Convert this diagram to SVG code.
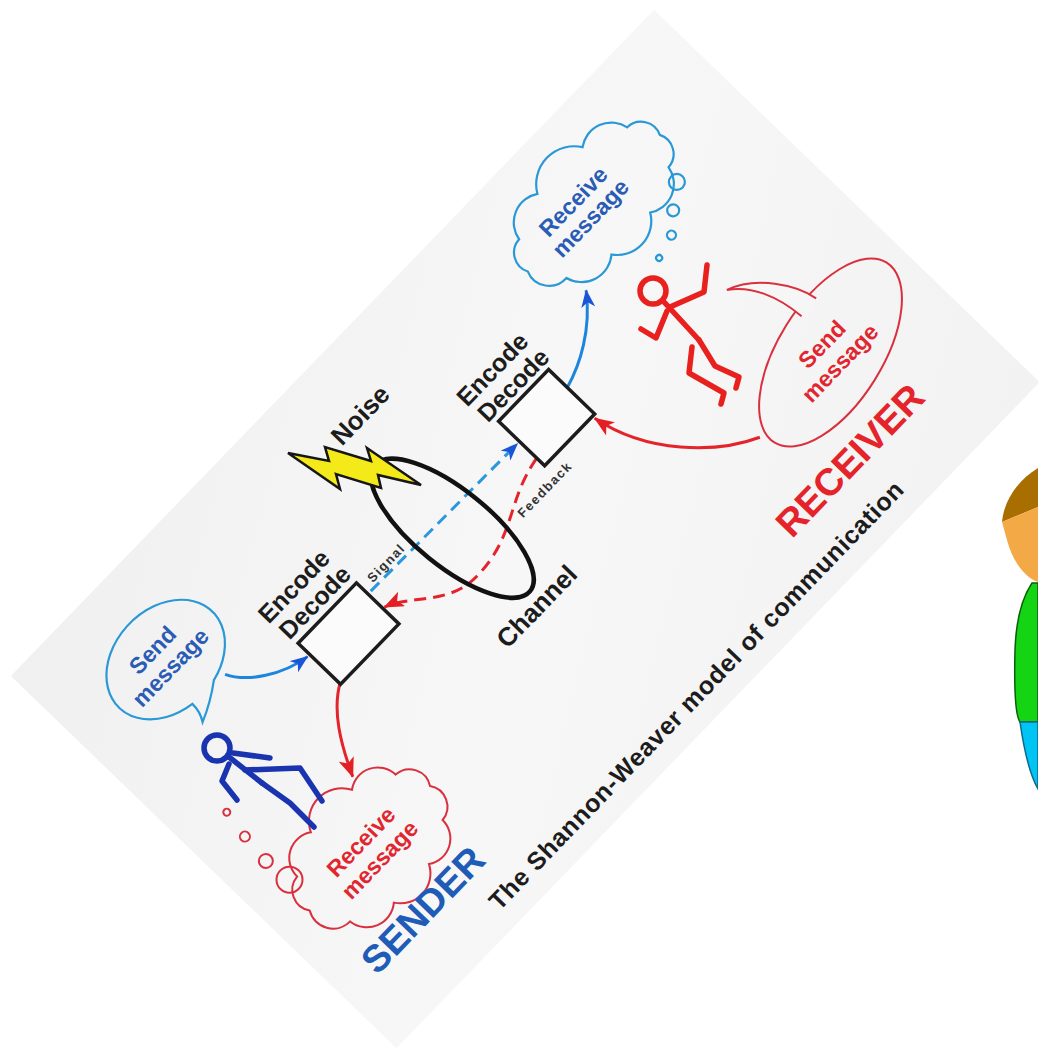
<svg xmlns="http://www.w3.org/2000/svg" width="1038" height="1048" viewBox="0 0 1038 1048">
  <defs>
    <style>
      .t{font-family:"Liberation Sans",Arial,sans-serif;font-weight:bold;}
      .ink{fill:#1c1c1c;}
      .small{fill:#333333;}
      .blueTxt{fill:#2a5cb6;}
      .redTxt{fill:#e1262f;}
      .box{fill:#fbfbfb;stroke:#1c1c1c;stroke-width:3.5;}
      .bubbleBlue{fill:none;stroke:#2a98d6;stroke-width:2.2;}
      .bubbleRed{fill:none;stroke:#d9303f;stroke-width:2;}
      .arrowBlue{fill:none;stroke:#1d86dc;stroke-width:3;}
      .arrowRed{fill:none;stroke:#e5232a;stroke-width:3;}
      .dashBlue{fill:none;stroke:#2a98dc;stroke-width:3;stroke-dasharray:12 7;}
      .dashRed{fill:none;stroke:#e5232a;stroke-width:3;stroke-dasharray:12 7;}
      .stickBlue{fill:none;stroke:#1a34b0;stroke-width:5.5;stroke-linecap:round;stroke-linejoin:round;}
      .stickRed{fill:none;stroke:#e8201e;stroke-width:5.5;stroke-linecap:round;stroke-linejoin:round;}
    </style>
    <linearGradient id="cardShade" x1="0" y1="0" x2="1" y2="1">
      <stop offset="0" stop-color="#f0f0f0"/>
      <stop offset="0.5" stop-color="#f7f7f7"/>
      <stop offset="1" stop-color="#f2f2f2"/>
    </linearGradient>
    <marker id="tipBlue" markerUnits="userSpaceOnUse" markerWidth="20" markerHeight="14" refX="17" refY="7" orient="auto">
      <path d="M0,0 L18,7 L0,14 L5,7 Z" fill="#1a55d8"/>
    </marker>
    <marker id="tipRed" markerUnits="userSpaceOnUse" markerWidth="22" markerHeight="16" refX="19" refY="8" orient="auto">
      <path d="M0,0 L20,8 L0,16 L5,8 Z" fill="#e41f24"/>
    </marker>
  </defs>

  <rect width="1038" height="1048" fill="#ffffff"/>

  <!-- the card, drawn in its own rotated frame -->
  <g transform="translate(13,678) rotate(-46)">
    <rect id="card" x="0" y="-3" width="926" height="536" fill="url(#cardShade)"/>

    <g id="connectors">
      <path class="dashBlue" d="M311,197 L519,200" marker-end="url(#tipBlue)"/>
      <path class="dashRed" d="M522,224 C470,232 452,263 395,263 C355,263 336,228 309,218" marker-end="url(#tipRed)"/>
      <path class="arrowBlue" d="M150,150 C160,172 190,192 220,197" marker-end="url(#tipBlue)"/>
      <path class="arrowRed" d="M225,238 C198,252 180,282 165,313" marker-end="url(#tipRed)"/>
      <path class="arrowBlue" d="M594,197 C620,190 652,174 677,143" marker-end="url(#tipBlue)"/>
      <path class="arrowRed" d="M692,370 C650,350 602,300 591,238" marker-end="url(#tipRed)"/>
    </g>

    <g id="sender-codec">
      <rect class="box" x="223" y="181" width="84" height="59"/>
      <text class="t ink" x="216" y="147" font-size="25">Encode</text>
      <text class="t ink" x="219" y="173" font-size="25">Decode</text>
    </g>

    <g id="receiver-codec">
      <rect class="box" x="522" y="171" width="72" height="64"/>
      <text class="t ink" x="510" y="139" font-size="25">Encode</text>
      <text class="t ink" x="513" y="165" font-size="25">Decode</text>
    </g>

    <g id="channel">
      <ellipse cx="413" cy="212" rx="38" ry="100" transform="rotate(-5 413 212)" fill="none" stroke="#111111" stroke-width="4.5"/>
      <text class="t ink" x="364" y="336" font-size="26">Channel</text>
    </g>

    <g id="signal-label">
      <text class="t small" x="318" y="193" font-size="13" letter-spacing="1.5">Signal</text>
    </g>
    <g id="feedback-label">
      <text class="t small" x="469" y="256" font-size="13" letter-spacing="1.5">Feedback</text>
    </g>

    <g id="noise-label">
      <text class="t ink" x="395" y="76" font-size="26">Noise</text>
    </g>

    <g id="sender-send">
      <path class="bubbleBlue" d="M138,146 A67,51 0 1 0 106,147 Q106,158 100,167 Q120,159 138,146 Z"/>
      <text class="t blueTxt" x="117" y="89" font-size="23" text-anchor="middle">Send</text>
      <text class="t blueTxt" x="117" y="114" font-size="23" text-anchor="middle">message</text>
    </g>

    <g id="sender-receive">
      <path class="bubbleRed" d="M212,375 A21,21 0 0 1 196.3,407.7 A26,26 0 0 1 155.1,428.5 A30,30 0 0 1 103,430 A27,27 0 0 1 59.1,411.6 A24,24 0 0 1 38.8,375 A21,21 0 0 1 54.5,342.3 A26,26 0 0 1 95.9,321.5 A33,33 0 0 1 155.1,321.5 A26,26 0 0 1 196.3,342.3 A21,21 0 0 1 212,375 Z"/>
      <circle class="bubbleRed" cx="52" cy="247" r="3.5"/>
      <circle class="bubbleRed" cx="47" cy="277" r="5"/>
      <circle class="bubbleRed" cx="44" cy="309" r="7"/>
      <circle class="bubbleRed" cx="47" cy="339" r="13"/>
      <text class="t redTxt" x="124" y="372" font-size="23" text-anchor="middle">Receive</text>
      <text class="t redTxt" x="124" y="398" font-size="23" text-anchor="middle">message</text>
    </g>

    <g id="receiver-receive">
      <path class="bubbleBlue" d="M840,88 A20,20 0 0 1 822.8,116.7 A29,29 0 0 1 777.5,135 A34,34 0 0 1 720.4,136.3 A30,30 0 0 1 672.2,120.2 A23,23 0 0 1 650,88 A20,20 0 0 1 667.2,59.3 A29,29 0 0 1 712.5,41 A38,38 0 0 1 777.5,41 A29,29 0 0 1 822.8,59.3 A20,20 0 0 1 840,88 Z"/>
      <circle class="bubbleBlue" cx="818" cy="133" r="8"/>
      <circle class="bubbleBlue" cx="795" cy="150" r="6"/>
      <circle class="bubbleBlue" cx="776" cy="166" r="4.5"/>
      <circle class="bubbleBlue" cx="751" cy="173" r="3"/>
      <text class="t blueTxt" x="732" y="80" font-size="23" text-anchor="middle">Receive</text>
      <text class="t blueTxt" x="732" y="104" font-size="23" text-anchor="middle">message</text>
    </g>

    <g id="receiver-send">
      <ellipse class="bubbleRed" cx="802" cy="362" rx="106" ry="52" transform="rotate(-12 802 362)"/>
      <path d="M831,314 C827,290 805,255 775,244 C795,258 806,285 808,316" fill="#f6f6f6" stroke="#d9303f" stroke-width="2"/>
      <text class="t redTxt" x="802" y="358" font-size="23" text-anchor="middle">Send</text>
      <text class="t redTxt" x="801" y="384" font-size="23" text-anchor="middle">message</text>
    </g>

    <g id="role-labels">
      <text class="t" x="118" y="469" font-size="38" text-anchor="middle" fill="#1f5cb8">SENDER</text>
      <text class="t" x="738" y="464" font-size="38" text-anchor="middle" fill="#e5232a">RECEIVER</text>
    </g>

    <g id="title">
      <text class="t ink" x="170" y="512" font-size="25" textLength="584" lengthAdjust="spacing">The Shannon-Weaver model of communication</text>
    </g>
  </g>

  <!-- lightning bolt for noise -->
  <g id="noise-bolt">
    <path d="M288,453 L329,461 L325,447 L371,461 L367,448 L421,485 L378,475 L381,488 L336,474 L340,489 Z" fill="#f4ea1a" stroke="#161616" stroke-width="2.5" stroke-linejoin="miter"/>
  </g>

  <!-- stick figures -->
  <g id="sender-figure">
    <circle class="stickBlue" cx="217" cy="748" r="13"/>
    <path class="stickBlue" d="M229,757 L262,783"/>
    <path class="stickBlue" d="M233,753 L270,758"/>
    <path class="stickBlue" d="M229,764 L222,781 L237,800"/>
    <path class="stickBlue" d="M245,770 L300,768 L322,801"/>
    <path class="stickBlue" d="M262,783 L290,803 L314,827"/>
  </g>

  <g id="receiver-figure">
    <circle class="stickRed" cx="653" cy="291" r="13"/>
    <path class="stickRed" d="M665,303 L699,340"/>
    <path class="stickRed" d="M670,307 L704,292 L707,265"/>
    <path class="stickRed" d="M667,311 L656,338 L641,329"/>
    <path class="stickRed" d="M699,340 L715,366 L739,377 L736,388"/>
    <path class="stickRed" d="M692,347 L689,373 L724,393 L721,404"/>
  </g>

  <!-- cartoon character at the right edge -->
  <g id="side-character">
    <path d="M1002,522 C1004,500 1018,480 1038,468 L1038,507 Z" fill="#a86f00"/>
    <path d="M1002,522 L1038,507 L1038,582 C1024,577 1012,560 1007,540 Z" fill="#f4a947"/>
    <path d="M1032,583 L1038,583 L1038,722 L1020,722 C1015,715 1014,690 1015,650 C1016,620 1022,598 1032,583 Z" fill="#14d414" stroke="#0b5e0b" stroke-width="1.5"/>
    <path d="M1020,722 L1038,722 L1038,789 C1030,775 1024,750 1020,722 Z" fill="#00c4f4" stroke="#0b6a8a" stroke-width="1.5"/>
  </g>
</svg>
